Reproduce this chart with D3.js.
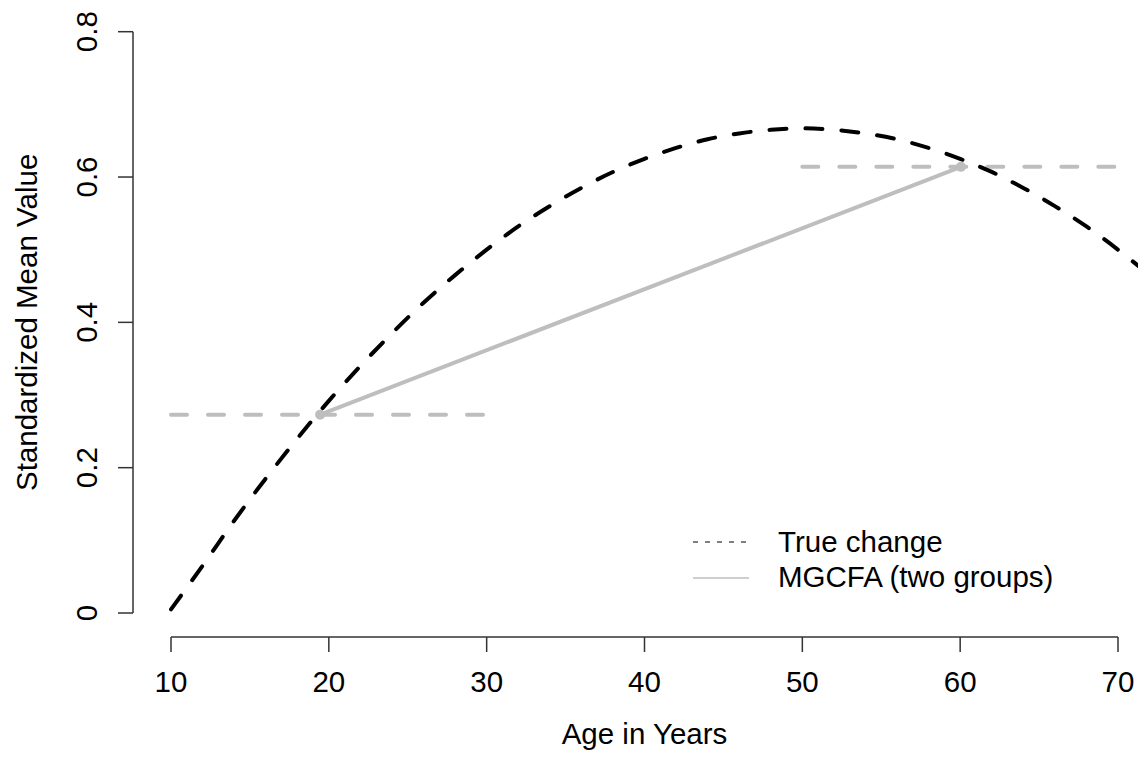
<!DOCTYPE html>
<html>
<head>
<meta charset="utf-8">
<script src="https://cdn.jsdelivr.net/npm/d3@7"></script>
<style>
  body { margin: 0; background: #fff; }
  text { font-family: "Liberation Sans", Arial, sans-serif; fill: #000; }
</style>
</head>
<body>
<div id="chart"></div>
<script>
// values
var ages = [10, 12, 14, 16, 18, 20, 22, 24, 26, 28, 30, 32, 34, 36, 38, 40, 42, 44, 46, 48, 50,
            52, 54, 56, 58, 60, 62, 64, 66, 68, 70, 72]
var trueChange = [0.005, 0.065, 0.127, 0.185, 0.240, 0.292, 0.340, 0.385, 0.427, 0.465, 0.500,
                  0.532, 0.560, 0.585, 0.607, 0.625, 0.640, 0.652, 0.660, 0.665, 0.667,
                  0.665, 0.660, 0.652, 0.640, 0.625, 0.607, 0.585, 0.560, 0.532, 0.500, 0.465]
var mgcfaAges = [19.45, 60.05]
var mgcfaValues = [0.273, 0.614]
// horizontal reference segments [from, to, value]
var groupSpans = [[10, 30, 0.273], [50, 70, 0.614]]
var xTicks = [10, 20, 30, 40, 50, 60, 70]
var yTicks = [0, 0.2, 0.4, 0.6, 0.8]
var legendLabels = ['True change', 'MGCFA (two groups)']

var width = 1138, height = 758
var fs = 29.5

var svg = d3.select('#chart').append('svg')
    .attr('width', width)
    .attr('height', height)

var x = d3.scaleLinear().domain([10, 70]).range([171, 1118])
var y = d3.scaleLinear().domain([0, 0.8]).range([613, 31.7])

svg.append('clipPath').attr('id', 'clip')
    .append('rect').attr('x', 0).attr('y', 0).attr('width', width).attr('height', 640)

var plot = svg.append('g').attr('clip-path', 'url(#clip)')

// grey dashed group means
plot.selectAll('line.span')
    .data(groupSpans)
    .enter()
    .append('line')
    .attr('class', 'span')
    .attr('x1', function(d) { return x(d[0]) })
    .attr('x2', function(d) { return x(d[1]) })
    .attr('y1', function(d) { return y(d[2]) })
    .attr('y2', function(d) { return y(d[2]) })
    .attr('stroke', '#bebebe')
    .attr('stroke-width', 4)
    .attr('stroke-linecap', 'round')
    .attr('stroke-dasharray', '16,21')

// MGCFA line
var mg = mgcfaAges.map(function(a, i) { return [a, mgcfaValues[i]] })
plot.append('path')
    .datum(mg)
    .attr('d', d3.line().x(function(d) { return x(d[0]) }).y(function(d) { return y(d[1]) }))
    .attr('fill', 'none')
    .attr('stroke', '#bebebe')
    .attr('stroke-width', 4)

plot.selectAll('circle')
    .data(mg)
    .enter()
    .append('circle')
    .attr('cx', function(d) { return x(d[0]) })
    .attr('cy', function(d) { return y(d[1]) })
    .attr('r', 5)
    .attr('fill', '#bebebe')

// true change curve
var tc = ages.map(function(a, i) { return [a, trueChange[i]] })
plot.append('path')
    .datum(tc)
    .attr('d', d3.line().curve(d3.curveCatmullRom)
        .x(function(d) { return x(d[0]) })
        .y(function(d) { return y(d[1]) }))
    .attr('fill', 'none')
    .attr('stroke', '#000')
    .attr('stroke-width', 4)
    .attr('stroke-linecap', 'round')
    .attr('stroke-dasharray', '17,19')

// x axis
var xAxis = svg.append('g').attr('transform', 'translate(0,637)')
xAxis.append('line')
    .attr('x1', x(10)).attr('x2', x(70))
    .attr('stroke', '#333').attr('stroke-width', 1.5)
xAxis.selectAll('line.tick')
    .data(xTicks)
    .enter()
    .append('line')
    .attr('class', 'tick')
    .attr('x1', function(d) { return x(d) })
    .attr('x2', function(d) { return x(d) })
    .attr('y1', 0).attr('y2', 15)
    .attr('stroke', '#333').attr('stroke-width', 1.5)
xAxis.selectAll('text')
    .data(xTicks)
    .enter()
    .append('text')
    .attr('x', function(d) { return x(d) })
    .attr('y', 55)
    .attr('text-anchor', 'middle')
    .style('font-size', fs + 'px')
    .text(function(d) { return d })

// y axis
var yAxis = svg.append('g').attr('transform', 'translate(133,0)')
yAxis.append('line')
    .attr('y1', y(0)).attr('y2', y(0.8))
    .attr('stroke', '#333').attr('stroke-width', 1.5)
yAxis.selectAll('line.tick')
    .data(yTicks)
    .enter()
    .append('line')
    .attr('class', 'tick')
    .attr('y1', function(d) { return y(d) })
    .attr('y2', function(d) { return y(d) })
    .attr('x1', 0).attr('x2', -15)
    .attr('stroke', '#333').attr('stroke-width', 1.5)
yAxis.selectAll('text')
    .data(yTicks)
    .enter()
    .append('text')
    .attr('transform', function(d) { return 'translate(-36,' + y(d) + ') rotate(-90)' })
    .attr('text-anchor', 'middle')
    .style('font-size', fs + 'px')
    .text(function(d) { return d === 0 ? '0' : d3.format('.1f')(d) })

// axis titles
svg.append('text')
    .attr('x', (x(10) + x(70)) / 2)
    .attr('y', 744)
    .attr('text-anchor', 'middle')
    .style('font-size', fs + 'px')
    .text('Age in Years')

svg.append('text')
    .attr('transform', 'translate(37,' + (y(0) + y(0.8)) / 2 + ') rotate(-90)')
    .attr('text-anchor', 'middle')
    .style('font-size', fs + 'px')
    .text('Standardized Mean Value')

// legend
var legend = svg.append('g').attr('transform', 'translate(693,542)')
legend.append('line')
    .attr('x1', 0).attr('x2', 56).attr('y1', 0).attr('y2', 0)
    .attr('stroke', '#000').attr('stroke-width', 1.2)
    .attr('stroke-dasharray', '5,7')
legend.append('line')
    .attr('x1', 0).attr('x2', 56).attr('y1', 36).attr('y2', 36)
    .attr('stroke', '#bebebe').attr('stroke-width', 1.5)
legend.selectAll('text')
    .data(legendLabels)
    .enter()
    .append('text')
    .attr('x', 85)
    .attr('y', function(d, i) { return 10 + i * 35 })
    .style('font-size', fs + 'px')
    .text(function(d) { return d })
</script>
</body>
</html>
